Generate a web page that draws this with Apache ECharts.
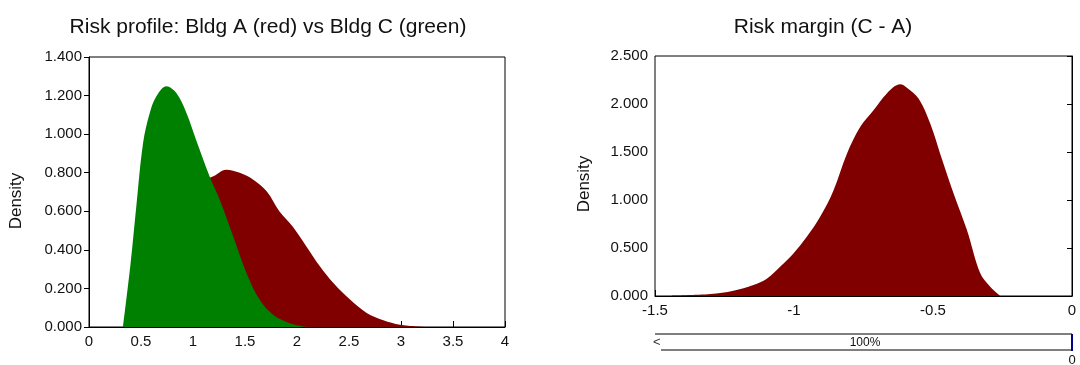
<!DOCTYPE html>
<html><head><meta charset="utf-8">
<script src="https://cdn.jsdelivr.net/npm/echarts@6/dist/echarts.min.js"></script>
<style>html,body{margin:0;padding:0;background:#fff}#c{width:1080px;height:365px}</style>
</head><body><div id="c"></div>
<script>
// Left chart: Bldg A (red) and Bldg C (green) densities
var bldgCX = [0.327,0.40,0.455,0.52,0.584,0.648,0.744,0.84,0.937,1.03,1.16,1.257,1.386,1.514,1.64,1.77,1.93,2.06,2.12];
var bldgCY = [0,0.33,0.626,0.954,1.11,1.196,1.248,1.213,1.11,0.97,0.78,0.66,0.47,0.28,0.142,0.064,0.02,0.003,0];
var bldgAX = [0.33,0.5,0.7,0.9,1.05,1.19,1.32,1.45,1.58,1.71,1.83,1.96,2.09,2.22,2.35,2.51,2.67,2.83,2.99,3.25];
var bldgAY = [0,0.25,0.5,0.68,0.75,0.78,0.816,0.80,0.764,0.703,0.60,0.52,0.418,0.315,0.228,0.142,0.073,0.035,0.012,0];
// Right chart: Risk margin (C - A)
var marginX = [-1.44,-1.30,-1.218,-1.146,-1.098,-1.05,-1.002,-0.954,-0.906,-0.858,-0.81,-0.762,-0.714,-0.666,-0.618,-0.594,-0.552,-0.51,-0.474,-0.426,-0.378,-0.33,-0.294,-0.258];
var marginY = [0.003,0.02,0.055,0.114,0.18,0.305,0.444,0.617,0.825,1.10,1.48,1.76,1.935,2.11,2.205,2.17,2.056,1.796,1.48,1.068,0.687,0.236,0.097,0];
var titles = ['Risk profile: Bldg A (red) vs Bldg C (green)', 'Risk margin (C - A)'];
var yName = 'Density';
var sliderText = '100%';

function pairs(xs, ys){ return xs.map(function(x,i){return [x, ys[i]];}); }

var FONT = 'Liberation Sans, Arial, sans-serif';
var black = '#000';
function yAx(gi, max, interval){
  return {gridIndex:gi, type:'value', min:0, max:max, interval:interval,
    name:yName, nameLocation:'middle', nameRotate:90, nameGap: gi===0?64:62,
    nameTextStyle:{fontFamily:FONT,fontSize:17,color:'#111',padding: gi===0?[0,18,0,0]:[0,16,0,0]},
    axisLine:{show:true,lineStyle:{color:black,width:1}},
    axisTick:{show:true,inside:false,length:5,lineStyle:{color:black}},
    axisLabel:{fontFamily:FONT,fontSize:15,color:'#111',margin:7,formatter:function(v){return v.toFixed(3);}},
    splitLine:{show:false}};
}
function xAx(gi, min, max, interval){
  return {gridIndex:gi, type:'value', min:min, max:max, interval:interval,
    axisLine:{show:true,onZero:false,lineStyle:{color:black,width:1}},
    axisTick:{show:true,inside:true,length:6,lineStyle:{color:black}},
    axisLabel:{fontFamily:FONT,fontSize:15,color:'#111',margin:7,showMaxLabel:true,showMinLabel:true},
    splitLine:{show:false}};
}
function area(xi, yi, data, color, z){
  return {type:'line', xAxisIndex:xi, yAxisIndex:yi, data:data, smooth:0.35,
    symbol:'none', lineStyle:{width:0}, areaStyle:{color:color, opacity:1}, z:z, silent:true};
}

var chart = echarts.init(document.getElementById('c'), null, {renderer:'canvas'});
chart.setOption({
  backgroundColor:'#fff',
  animation:false,
  title:[
    {text:titles[0], left:263, top:12, textAlign:'center', textStyle:{fontFamily:FONT,fontSize:21,fontWeight:'normal',color:'#111'}},
    {text:titles[1], left:818, top:12, textAlign:'center', textStyle:{fontFamily:FONT,fontSize:21,fontWeight:'normal',color:'#111'}}
  ],
  grid:[
    {left:89, top:57, width:416, height:270, show:true, borderColor:black, borderWidth:1, backgroundColor:'transparent'},
    {left:655, top:56, width:417, height:240, show:true, borderColor:black, borderWidth:1, backgroundColor:'transparent'}
  ],
  xAxis:[xAx(0,0,4,0.5), xAx(1,-1.5,0,0.5)],
  yAxis:[yAx(0,1.4,0.2), yAx(1,2.5,0.5)],
  series:[
    area(0,0,pairs(bldgAX,bldgAY),'#800000',2),
    area(0,0,pairs(bldgCX,bldgCY),'#008000',3),
    area(1,1,pairs(marginX,marginY),'#800000',2)
  ],
  graphic:[
    {type:'line', shape:{x1:655,y1:334,x2:1072,y2:334}, style:{stroke:black,lineWidth:1}},
    {type:'line', shape:{x1:661,y1:350,x2:1072,y2:350}, style:{stroke:black,lineWidth:1}},
    {type:'text', x:653, y:342, style:{text:'<', fontFamily:FONT, fontSize:13, fill:'#333', textVerticalAlign:'middle'}},
    {type:'text', x:865, y:343, style:{text:sliderText, fontFamily:FONT, fontSize:12, fill:'#111', textAlign:'center', textVerticalAlign:'middle'}},
    {type:'line', shape:{x1:1072,y1:334,x2:1072,y2:351}, style:{stroke:'#00008b',lineWidth:2}},
    {type:'text', x:1072, y:360, style:{text:'0', fontFamily:FONT, fontSize:13, fill:'#111', textAlign:'center', textVerticalAlign:'middle'}}
  ]
});
</script></body></html>
